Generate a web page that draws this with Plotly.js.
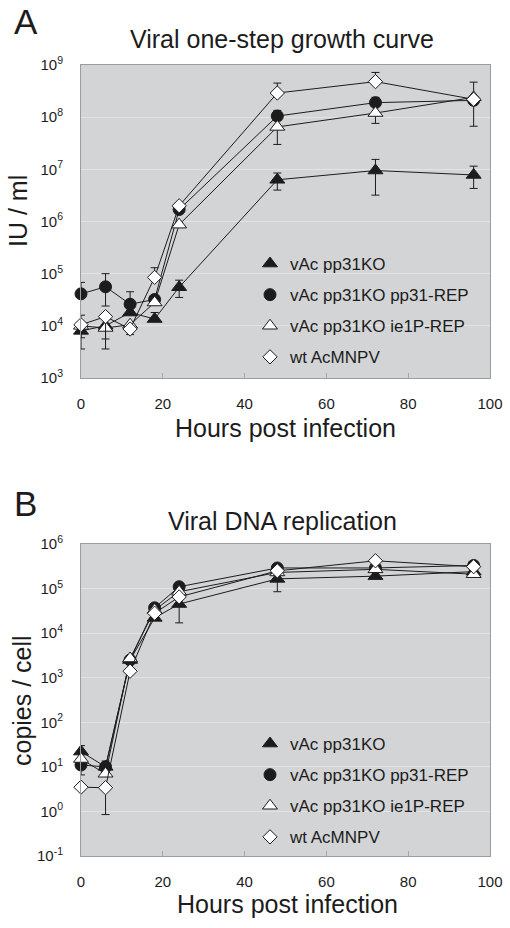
<!DOCTYPE html>
<html>
<head>
<meta charset="utf-8">
<script src="https://cdn.plot.ly/plotly-3.0.1.min.js"></script>
<style>html,body{margin:0;padding:0;background:#fff;}#chart{width:510px;height:928px;}</style>
</head>
<body>
<div id="chart"></div>
<script>
// ---------- data ----------
var hours = [0, 6, 12, 18, 24, 48, 72, 96];
var seriesNames = ["vAc pp31KO", "vAc pp31KO pp31-REP", "vAc pp31KO ie1P-REP", "wt AcMNPV"];

// Panel A: Viral one-step growth curve (IU / ml)
var A_ko  = [8.0e3, 1.0e4, 1.8e4, 1.35e4, 5.5e4, 6.3e6, 9.5e6, 7.8e6];
var A_rep = [4.1e4, 5.6e4, 2.6e4, 3.2e4, 1.7e6, 1.05e8, 1.9e8, 2.1e8];
var A_ie  = [1.0e4, 9.1e3, 1.05e4, 2.8e4, 8.7e5, 6.5e7, 1.2e8, 2.4e8];
var A_wt  = [1.05e4, 1.5e4, 8.7e3, 8.5e4, 2.0e6, 2.9e8, 4.8e8, 2.2e8];
var A_ko_hi  = [1.6e4, null, null, 1.8e4, 7.5e4, 8.5e6, 1.55e7, 1.15e7];
var A_ko_lo  = [3.6e3, null, null, null, 3.5e4, 4.0e6, 3.2e6, 4.3e6];
var A_rep_hi = [6.8e4, 1.0e5, 4.5e4, null, null, 1.35e8, 2.4e8, 4.7e8];
var A_rep_lo = [null, 2.4e4, null, null, null, null, null, 6.7e7];
var A_ie_hi  = [null, null, null, null, null, null, null, null];
var A_ie_lo  = [5.9e3, 3.6e3, null, null, null, 3.0e7, 7.6e7, null];
var A_wt_hi  = [null, null, null, 1.3e5, null, 4.5e8, 7.2e8, null];
var A_wt_lo  = [null, 5.6e3, 6.8e3, null, null, null, null, null];

// Panel B: Viral DNA replication (copies / cell)
var B_ko  = [22, 10, 2500, 2.2e4, 4.5e4, 1.65e5, 1.9e5, 2.4e5];
var B_rep = [11, 10, 2500, 3.7e4, 1.1e5, 2.9e5, 2.9e5, 3.3e5];
var B_ie  = [15, 7, 2700, 3.3e4, 8.5e4, 2.3e5, 2.7e5, 2.1e5];
var B_wt  = [3.5, 3.4, 1400, 2.8e4, 6.5e4, 2.5e5, 4.2e5, 3.1e5];
var B_ko_hi  = [30, 13.5, null, null, null, null, null, null];
var B_ko_lo  = [10, null, null, null, 1.7e4, 8.5e4, null, null];
var B_rep_hi = [null, null, null, null, null, null, null, null];
var B_rep_lo = [6.6, null, null, null, null, null, null, null];
var B_ie_hi  = [null, null, null, null, null, null, null, null];
var B_ie_lo  = [null, null, null, null, null, null, null, null];
var B_wt_hi  = [null, null, null, null, null, null, null, null];
var B_wt_lo  = [null, 0.85, null, null, null, null, null, null];

// tick labels
var xTicks = [0, 20, 40, 60, 80, 100];
var A_yTickExp = [3, 4, 5, 6, 7, 8, 9];
var B_yTickExp = [-1, 0, 1, 2, 3, 4, 5, 6];

// ---------- styling ----------
var FONT = "Liberation Sans, Arial, Helvetica, sans-serif";
var INK = "#1c1c1c";
var symbols = ["triangle-up", "circle", "triangle-up", "diamond"];
var fills = [INK, INK, "#ffffff", "#ffffff"];
var sizes = [13, 12, 13, 11];

function errs(v, hi, lo) {
  var p = [], m = [];
  for (var i = 0; i < v.length; i++) {
    p.push(hi[i] == null ? NaN : hi[i] - v[i]);
    m.push(lo[i] == null ? NaN : v[i] - lo[i]);
  }
  return {type: "data", symmetric: false, array: p, arrayminus: m,
          color: INK, thickness: 1, width: 4};
}

function seriesTrace(i, y, hi, lo, xa, ya) {
  return {
    x: hours, y: y, xaxis: xa, yaxis: ya, type: "scatter", mode: "lines+markers",
    showlegend: false, cliponaxis: false,
    line: {color: INK, width: 1},
    marker: {symbol: symbols[i], size: sizes[i], color: fills[i], line: {color: INK, width: 1}},
    error_y: errs(y, hi, lo)
  };
}
function legendTrace(i, xa, ya, lg) {
  return {
    x: [null], y: [null], xaxis: xa, yaxis: ya, type: "scatter", mode: "markers",
    name: seriesNames[i], legend: lg, legendgroup: lg + i, showlegend: true,
    marker: {symbol: symbols[i], size: sizes[i], color: fills[i], line: {color: INK, width: 1}}
  };
}

var A_vals = [A_ko, A_rep, A_ie, A_wt];
var A_his = [A_ko_hi, A_rep_hi, A_ie_hi, A_wt_hi];
var A_los = [A_ko_lo, A_rep_lo, A_ie_lo, A_wt_lo];
var B_vals = [B_ko, B_rep, B_ie, B_wt];
var B_his = [B_ko_hi, B_rep_hi, B_ie_hi, B_wt_hi];
var B_los = [B_ko_lo, B_rep_lo, B_ie_lo, B_wt_lo];

var traces = [];
for (var i = 0; i < 4; i++) traces.push(seriesTrace(i, A_vals[i], A_his[i], A_los[i], "x", "y"));
for (var i = 0; i < 4; i++) traces.push(seriesTrace(i, B_vals[i], B_his[i], B_los[i], "x2", "y2"));
for (var i = 0; i < 4; i++) traces.push(legendTrace(i, "x", "y", "legend"));
for (var i = 0; i < 4; i++) traces.push(legendTrace(i, "x2", "y2", "legend2"));

var W = 510, H = 928;
function px(x) { return x / W; }
function py(y) { return 1 - y / H; }

function supTicks(exps) {
  return exps.map(function (e) { return "10<sup>" + e + "</sup>"; });
}
function xAxis(anchor, domainY) {
  return {
    anchor: anchor, domain: [px(81), px(490)], range: [0, 100],
    tickvals: xTicks, ticktext: xTicks.map(String),
    ticks: "inside", ticklen: 5, tickcolor: "#a8a8a8", tickwidth: 1,
    showgrid: false, zeroline: false,
    showline: true, mirror: true, linecolor: "#9c9c9c", linewidth: 1,
    tickfont: {family: FONT, size: 15, color: INK}, ticklabelstandoff: 12
  };
}
function yAxis(anchor, dom, exps) {
  return {
    anchor: anchor, domain: dom, type: "log",
    range: [exps[0], exps[exps.length - 1]],
    tickvals: exps.map(function (e) { return Math.pow(10, e); }),
    ticktext: supTicks(exps),
    ticks: "", showgrid: true, gridcolor: "#e3e3e3", gridwidth: 1,
    zeroline: false, showline: true, mirror: true, linecolor: "#9c9c9c", linewidth: 1,
    tickfont: {family: FONT, size: 15, color: INK}, ticklabelstandoff: 14
  };
}

function ann(text, x, y, size, opts) {
  var a = {text: text, x: px(x), y: py(y), xref: "paper", yref: "paper",
           showarrow: false, xanchor: "center", yanchor: "middle",
           font: {family: FONT, size: size, color: INK}};
  for (var k in (opts || {})) a[k] = opts[k];
  return a;
}

var legendStyle = function (top) {
  return {
    x: px(250), y: py(top), xanchor: "left", yanchor: "top",
    bgcolor: "rgba(0,0,0,0)", borderwidth: 0,
    font: {family: FONT, size: 17, color: INK},
    traceorder: "grouped", tracegroupgap: 6, itemsizing: "trace"
  };
};

var layout = {
  width: W, height: H, autosize: false,
  margin: {l: 0, r: 0, t: 0, b: 0},
  paper_bgcolor: "#ffffff", plot_bgcolor: "#d3d4d6",
  font: {family: FONT, color: INK},
  xaxis: xAxis("y"),
  yaxis: yAxis("x", [py(378), py(65)], A_yTickExp),
  xaxis2: xAxis("y2"),
  yaxis2: yAxis("x2", [py(856), py(544)], B_yTickExp),
  legend: legendStyle(246),
  legend2: legendStyle(726),
  annotations: [
    ann("A", 12, 22, 35, {xanchor: "left"}),
    ann("Viral one-step growth curve", 282, 39, 25),
    ann("Hours post infection", 285, 428, 25),
    ann("IU / ml", 18, 211, 25, {textangle: -90}),
    ann("B", 12, 503, 35, {xanchor: "left"}),
    ann("Viral DNA replication", 282, 521, 25),
    ann("Hours post infection", 287, 904, 25),
    ann("copies / cell", 22, 701, 25, {textangle: -90})
  ]
};

Plotly.newPlot("chart", traces, layout, {staticPlot: true, displayModeBar: false});
</script>
</body>
</html>
